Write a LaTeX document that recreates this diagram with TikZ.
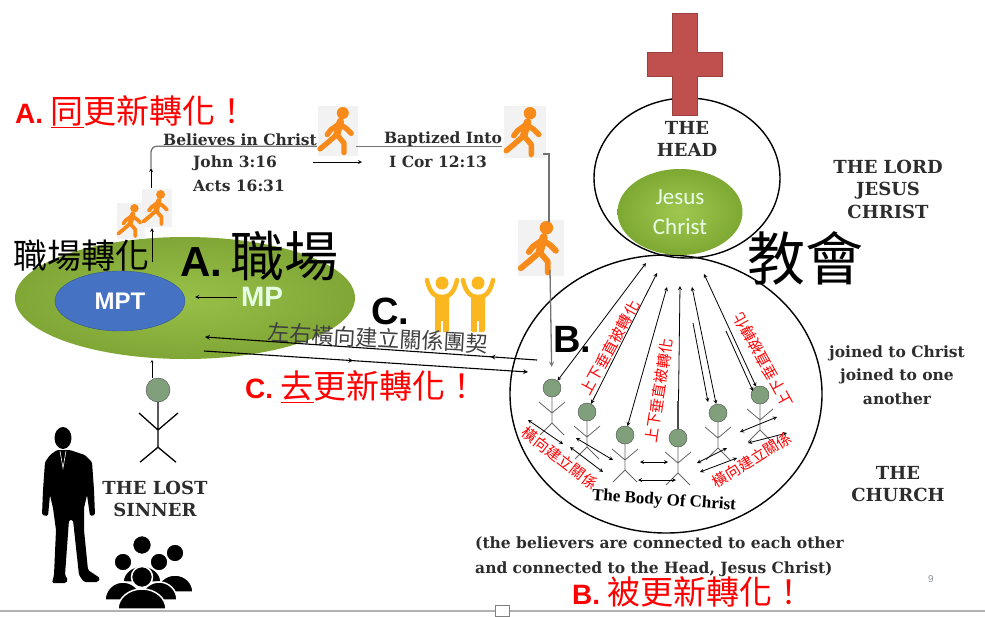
\documentclass[tikz,border=0pt]{standalone}
\usepackage{fontspec}
\setmainfont{DejaVu Serif}
\setsansfont{Liberation Sans}
\newfontfamily\cjk{Noto Sans CJK TC}
\newfontfamily\calibri{Carlito}
\newfontfamily\timesfont{Liberation Serif}
\usepackage{tikz}
\usetikzlibrary{shapes.geometric, decorations.markings}

\definecolor{slidered}{RGB}{255,0,0}
\definecolor{worklight}{RGB}{152,192,72}
\definecolor{workdark}{RGB}{128,166,54}
\definecolor{christlight}{RGB}{160,200,80}
\definecolor{christdark}{RGB}{125,168,50}
\definecolor{mptblue}{RGB}{70,114,196}
\definecolor{walkorange}{RGB}{247,138,24}
\definecolor{cheergold}{RGB}{250,183,32}
\definecolor{crossred}{RGB}{192,80,77}
\definecolor{membergreen}{RGB}{128,160,124}
\definecolor{ink}{RGB}{45,45,45}
\definecolor{pagenum}{RGB}{140,150,160}

\tikzset{
  slogan/.style={text=slidered, inner sep=0pt, anchor=base west, font=\cjk\fontsize{33}{36}\selectfont},
  verse/.style={text=ink, inner sep=0pt, font=\bfseries\fontsize{15.5}{23}\selectfont, align=center},
  capsnote/.style={text=ink, inner sep=0pt, font=\bfseries\fontsize{18}{22.5}\selectfont, align=center},
  bigletter/.style={inner sep=0pt, font=\sffamily\bfseries\fontsize{38}{40}\selectfont},
  redverse/.style={text=slidered, inner sep=0pt, font=\cjk\fontsize{15}{16}\selectfont},
  member/.style={circle, draw=black!70, fill=membergreen, minimum size=18pt, inner sep=0pt},
  limb/.style={black!60, line width=0.8pt},
  flow/.style={black!55, line width=1.3pt},
  link/.style={black, line width=0.8pt},
  midarrow/.style={postaction={decorate}, decoration={markings, mark=at position #1 with {\arrow{stealth}}}},
  walker/.pic={
    \begin{scope}[scale=#1]
      \fill[black!5] (-17,-21) rectangle (17,21);
      \draw[walkorange, line width=6pt*#1, line cap=round] (2,-8) -- (-1,3);
      \draw[walkorange, line width=4.4pt*#1, line cap=round, line join=round]
        (-1,3) -- (-9,10) -- (-15,15)
        (-1,3) -- (5,10) -- (5,18)
        (1,-6) -- (-6,-1) -- (-9,3)
        (1,-6) -- (7,-2) -- (11,2);
      \fill[walkorange] (4,-15) circle (5);
    \end{scope}
  },
  cheer/.pic={
    \fill[cheergold] (0,0) circle (6.5);
    \draw[cheergold, line width=4.5pt, line cap=round]
      (-15,-3) .. controls (-12,12) and (-5,14) .. (0,14)
      .. controls (5,14) and (12,12) .. (15,-3);
    \fill[cheergold, rounded corners=2pt] (-7,12) rectangle (7,49);
    \draw[white, line width=1.2pt] (0,38) -- (0,50);
  }
}

\begin{document}
\begin{tikzpicture}[x=1pt, y=-1pt, >=stealth]
  \useasboundingbox (0,0) rectangle (985,616);

  % Red headings
  \node[slogan] (renewA) at (15,123) {{\sffamily\bfseries\fontsize{28}{30}\selectfont A.} \underline{同}更新轉化！};
  \node[slogan] (renewC) at (245,398) {{\sffamily\bfseries\fontsize{28}{30}\selectfont C.} \underline{去}更新轉化！};
  \node[slogan] (renewB) at (572,604) {{\sffamily\bfseries\fontsize{28}{30}\selectfont B.} 被更新轉化！};

  % Workplace
  \node[ellipse, minimum width=340pt, minimum height=122pt, inner color=worklight, outer color=workdark] (work) at (185,298) {};
  \node[ellipse, minimum width=130pt, minimum height=60pt, fill=mptblue, draw=mptblue!75!black,
        text=white, font=\sffamily\bfseries\fontsize{24}{26}\selectfont] (mpt) at (120,301) {MPT};
  \node[text=white!90!green, font=\sffamily\bfseries\fontsize{28}{30}\selectfont] (mp) at (262,297) {MP};
  \draw[->, thick, shorten >=10pt] (mp.west) -- (mp.west -| mpt.east);
  \node[anchor=base west, inner sep=0pt, font=\cjk\fontsize{34}{36}\selectfont] (workturn) at (13,268) {職場轉化};
  \node[anchor=base west, inner sep=0pt] (workA) at (180,276)
    {{\sffamily\bfseries\fontsize{42}{44}\selectfont A.}\hspace{8pt}{\cjk\fontsize{54}{56}\selectfont 職場}};

  % Way to faith and baptism
  \pic at (131,221) {walker=0.85};
  \pic at (157,208) {walker=0.9};
  \pic at (338,131) {walker=1.2};
  \pic at (525,132) {walker=1.25};
  \pic at (541,248) {walker=1.35};
  \coordinate (workexit) at (152,262);
  \coordinate (pairtop) at (152,228);
  \coordinate (pairleave) at (151,188);
  \coordinate (bend) at (151,168);
  \draw[->, thick] (workexit) -- (pairtop);
  \draw[->, thick] (pairleave) -- (bend);
  \node[verse] (believes) at (240,140) {Believes in Christ};
  \node[verse] (john) at (235,163) {John 3:16};
  \node[verse] (acts) at (239,186) {Acts 16:31};
  \draw[flow, rounded corners=6pt] (bend) |- (believes.south east);
  \coordinate (stepin) at (313,162);
  \coordinate (stepout) at (362,162);
  \draw[->, thick] (stepin) -- (stepout);
  \node[verse] (baptized) at (443,139) {Baptized Into};
  \node[verse] (cor) at (438,162) {I Cor 12:13};
  \draw[flow] ([xshift=-28pt]baptized.south west) -- (baptized.south east);
  \coordinate (dropstart) at (543,154);
  \coordinate (dropend) at (549,222);
  \draw[flow] (dropstart) -| (dropend);
  \coordinate (joinstart) at (550,270);

  % Lost sinner
  \node[member, minimum size=24pt] (sinner) at (158,390) {};
  \draw[black, line width=1.3pt] (sinner.south) -- ++(0,45) coordinate (sinnerhip)
    (139,413) -- (158,430) -- (178,413)
    (sinnerhip) -- ++(-18,15) (sinnerhip) -- ++(18,15);
  \draw[->] ([xshift=-6pt]sinner.north) -- ++(0,-18);
  \node[capsnote] (lost) at (155,499) {THE LOST\\SINNER};

  % Businessman silhouette
  \fill[black] (63,438) ellipse [x radius=8.5, y radius=11];
  \fill[black, rounded corners=1.5pt] (57,450) -- (70,450) -- (85,455) -- (92,462) -- (94,490) -- (95,515)
    -- (90,516) -- (87,495) -- (84,508) -- (84,530) -- (88,570) -- (100,578) -- (98,582) -- (84,582)
    -- (79,575) -- (73,520) -- (69,520) -- (65,575) -- (68,580) -- (66,583) -- (52,583) -- (54,575)
    -- (56,530) -- (53,508) -- (50,495) -- (48,516) -- (42,515) -- (43,490) -- (45,462) -- (50,455) -- cycle;
  \draw[white, line width=0.6pt] (60,451) -- (63,468) -- (66,451);

  % Crowd
  \foreach \hx/\hy/\hr/\bw/\bh/\bb in {142/545/9.5/19/16/582, 175/553/9/18/17/592, 123/562/9/18/18/600,
                                        159/562/9/18/18/600, 142/577/10.5/24/20/609} {
    \fill[black, draw=white, line width=1.5pt] (\hx-\bw,\bb) arc[start angle=180, end angle=360, x radius=\bw, y radius=\bh] -- cycle;
    \fill[black, draw=white, line width=1.5pt] (\hx,\hy) circle (\hr);
  }

  % Fellowship
  \node[bigletter] (fellowC) at (390,311) {C.};
  \pic at (442,283) {cheer};
  \pic at (478,283) {cheer};
  \node[text=black!75, font=\cjk\fontsize{22}{24}\selectfont, rotate=-3, inner sep=0pt] (lateral) at (378,338) {左右橫向建立關係團契};

  % Head and body of the church
  \node[draw, ellipse, line width=1.4pt, minimum width=312pt, minimum height=278pt] (body) at (666,394) {};
  \node[draw, ellipse, line width=1.4pt, minimum width=186pt, minimum height=160pt] (head) at (687,178) {};
  \fill[crossred, draw=crossred!80!black] (672,13) -- (697,13) -- (697,52) -- (722,52) -- (722,76) -- (697,76)
    -- (697,115) -- (672,115) -- (672,76) -- (647,76) -- (647,52) -- (672,52) -- cycle;
  \node[capsnote] (headname) at (687,139) {THE\\HEAD};
  \node[ellipse, minimum width=125pt, minimum height=86pt, inner color=christlight, outer color=christdark,
        text=white!92!green, font=\calibri\fontsize{23}{30}\selectfont, align=center] (jesus) at (680,212) {Jesus\\Christ};
  \node[font=\cjk\fontsize{58}{60}\selectfont, inner sep=0pt] (church) at (805,258) {教會};
  \node[bigletter] (bodyB) at (572,339) {B.};

  % Members of the body
  \foreach \mx/\my [count=\i] in {552/388, 587/412, 625/435, 678/438, 718/413, 760/395} {
    \draw[limb] (\mx,\my) ++(0,9) -- ++(0,26) coordinate (hip\i)
      (\mx,\my) ++(-13,14) -- ++(13,11) -- ++(13,-11)
      (hip\i) -- ++(-12,12) (hip\i) -- ++(12,12);
    \node[member] (m\i) at (\mx,\my) {};
  }
  \draw[->, flow, shorten >=12pt] (joinstart) -- (m1);

  % Vertical links to the Head
  \coordinate (up1) at (646,263);
  \coordinate (up2) at (657,273);
  \coordinate (up3) at (667,287);
  \coordinate (up4) at (680,286);
  \coordinate (up5) at (692,287);
  \coordinate (up6) at (704,274);
  \foreach \i in {1,2,3,5,6} \draw[link, <->] (up\i) -- (m\i);
  \draw[link, ->] (m4) -- (up4);
  \draw[line width=2.2pt, black!70] (m4.north) -- ++(0,-28);
  \draw[link, ->] (693,323) -- (708,402);
  \draw[link, ->] (726,331) -- (753,391);

  % Links between members
  \foreach \ax/\ay/\bx/\by in {528/420/563/444, 570/447/603/472, 576/438/613/460, 640/462/668/462,
                               638/480/676/480, 697/463/727/448, 700/472/737/458, 740/432/777/417, 748/443/787/433}
    \draw[link, <->] (\ax,\ay) -- (\bx,\by);

  % Lines between workplace and church
  \coordinate (backstart) at (537,360);
  \coordinate (backend) at (205,337);
  \coordinate (outstart) at (204,351);
  \coordinate (outend) at (528,372);
  \draw[link, line width=1.1pt, ->, midarrow=0.14] (backstart) -- (backend);
  \draw[link, line width=1.1pt, ->, midarrow=0.46] (outstart) -- (outend);

  % Red labels inside the body
  \node[redverse, rotate=61] (vert1) at (610,348) {上下垂直被轉化};
  \node[redverse, rotate=81] (vert2) at (659,391) {上下垂直被轉化};
  \node[redverse, rotate=119] (vert3) at (763,360) {上下垂直被轉化};
  \node[redverse, rotate=-38] (side1) at (560,458) {橫向建立關係};
  \node[redverse, rotate=32] (side2) at (752,460) {橫向建立關係};
  \node[text=black, inner sep=0pt, rotate=-4, font=\timesfont\bfseries\fontsize{17}{19}\selectfont] (bodyname) at (664,501) {The Body Of Christ};

  % Notes on the right
  \node[capsnote] (lord) at (888,189) {THE LORD\\JESUS\\CHRIST};
  \node[verse, font=\bfseries\fontsize{15.5}{23.5}\selectfont] (joined) at (897,375) {joined to Christ\\joined to one\\another};
  \node[capsnote] (churchname) at (898,484) {THE\\CHURCH};
  \node[verse, anchor=west, align=left, font=\bfseries\fontsize{15.5}{25}\selectfont] (believers) at (475,557)
    {(the believers are connected to each other\\and connected to the Head, Jesus Christ)};
  \node[text=pagenum, font=\sffamily\fontsize{10}{12}\selectfont] (pageno) at (931,579) {9};

  % Slide footer
  \draw[black!30, line width=1.2pt] (0,611) -- (985,611);
  \draw[black!50, fill=white] (495,605) rectangle (509,616);
\end{tikzpicture}
\end{document}
